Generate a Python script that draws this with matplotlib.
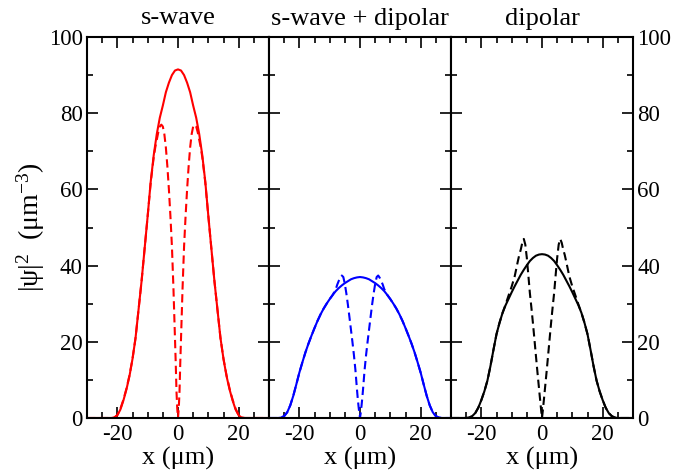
import numpy as np
import matplotlib
matplotlib.use("Agg")
import matplotlib.pyplot as plt
from matplotlib.ticker import MultipleLocator

plt.rcParams["font.family"] = ["Liberation Serif", "DejaVu Serif"]
plt.rcParams["mathtext.fontset"] = "custom"
plt.rcParams["mathtext.rm"] = "Liberation Serif"
plt.rcParams["mathtext.it"] = "Liberation Serif:italic"
plt.rcParams["axes.unicode_minus"] = False

# Density profiles |psi|^2 along x (half profiles for x >= 0; the clouds are symmetric)
x_solid = [0, 1, 2, 3, 4, 5, 6, 7, 8, 9, 10, 11, 12, 13, 14, 15, 16, 17, 18, 19,
           20, 21, 22, 23, 24, 25, 26, 27, 30]
x_dashed = [0, 0.25, 0.5, 0.75, 1, 1.5, 2, 2.5, 3, 3.5, 4, 4.5, 5, 5.5, 6, 6.5, 7,
            7.5, 8, 9, 10, 11, 12, 13, 14, 15, 16, 17, 18, 19, 20, 21, 22, 23, 24,
            25, 26, 27, 30]

# s-wave
swave_solid = [91.5, 91.2, 90.0, 88.0, 85.5, 82.0, 78.8, 74.5, 69.0, 62.0, 53.0, 44.5,
               36.0, 28.5, 21.0, 15.5, 11.0, 7.5, 4.6, 2.2, 0.7, 0.1, 0, 0, 0, 0, 0, 0, 0]
swave_dashed = [0, 2.5, 7.0, 14.5, 21.0, 34.0, 45.0, 53.0, 60.0, 66.0, 71.0, 74.5, 76.5,
                77.0, 76.5, 75.0, 73.0, 71.0, 68.5, 61.8, 53.0, 44.5, 36.0, 28.5, 21.0,
                15.5, 11.2, 7.7, 4.8, 2.4, 0.8, 0.1, 0, 0, 0, 0, 0, 0, 0]

# s-wave + dipolar
mixed_solid = [37.0, 36.9, 36.7, 36.4, 35.9, 35.4, 34.8, 34.1, 33.3, 32.3, 31.2, 30.0,
               28.7, 27.2, 25.5, 23.6, 21.6, 19.5, 17.2, 14.6, 11.9, 8.8, 5.8, 3.3, 1.5,
               0.5, 0.1, 0, 0]
mixed_dashed = [0, 1.4, 3.2, 5.2, 7.5, 12.5, 16.5, 20.0, 23.3, 26.6, 29.8, 32.7, 35.2,
                37.0, 37.4, 36.8, 36.0, 35.0, 33.8, 32.3, 31.2, 30.0, 28.7, 27.2, 25.5,
                23.6, 21.6, 19.5, 17.2, 14.6, 11.9, 8.8, 5.8, 3.3, 1.5, 0.5, 0.1, 0, 0]

# dipolar
dipolar_solid = [43.0, 42.9, 42.6, 42.0, 41.2, 40.1, 38.9, 37.6, 36.1, 34.6, 33.0, 31.3,
                 29.6, 27.6, 25.0, 22.0, 17.9, 13.6, 9.8, 7.0, 4.7, 2.7, 1.3, 0.5, 0.1,
                 0, 0, 0, 0]
dipolar_dashed = [0, 1.8, 3.8, 5.8, 7.9, 12.0, 16.3, 20.7, 25.0, 29.0, 32.8, 37.5, 42.0,
                  45.5, 47.0, 46.0, 44.2, 42.8, 41.0, 37.2, 34.5, 32.2, 29.8, 27.6, 25.0,
                  22.0, 17.9, 13.6, 9.8, 7.0, 4.7, 2.7, 1.3, 0.5, 0.1, 0, 0, 0, 0]

titles = ["s-wave", "s-wave + dipolar", "dipolar"]
colors = ["#ff0000", "#0000ff", "#000000"]
solids = [swave_solid, mixed_solid, dipolar_solid]
dasheds = [swave_dashed, mixed_dashed, dipolar_dashed]


def full_profile(xh, yh):
    xh = np.asarray(xh, float)
    yh = np.asarray(yh, float)
    return np.concatenate([-xh[::-1], xh[1:]]), np.concatenate([yh[::-1], yh[1:]])


fig = plt.figure(figsize=(6.73, 4.76), dpi=100)
left, right, bottom, top = 87 / 673, 633 / 673, 1 - 418 / 476, 1 - 37 / 476
w = (right - left) / 3

for i in range(3):
    ax = fig.add_axes([left + i * w, bottom, w, top - bottom])
    xs, ys = full_profile(x_solid, solids[i])
    xd, yd = full_profile(x_dashed, dasheds[i])
    ax.plot(xs, ys, color=colors[i], lw=1.5, solid_joinstyle="round")
    ax.plot(xd, yd, color=colors[i], lw=1.5, linestyle=(0, (4, 2.2)))
    ax.set_xlim(-30, 30)
    ax.set_ylim(0, 100)
    ax.xaxis.set_major_locator(MultipleLocator(20))
    ax.xaxis.set_minor_locator(MultipleLocator(5))
    ax.yaxis.set_major_locator(MultipleLocator(20))
    ax.yaxis.set_minor_locator(MultipleLocator(10))
    ax.tick_params(which="both", direction="in", top=True, right=True,
                   width=1.2, labelsize=16.5, pad=4)
    ax.tick_params(which="major", length=8)
    ax.tick_params(which="minor", length=4.5)
    ax.tick_params(axis="y", pad=3)
    for sp in ax.spines.values():
        sp.set_linewidth(1.5)
    if i == 0:
        ax.set_ylabel(r"$\mathrm{|ψ|^{2}\ \ (μm^{-3})}$", fontsize=20, labelpad=1)
    elif i == 1:
        ax.tick_params(axis="y", labelleft=False)
    else:
        ax.tick_params(axis="y", labelleft=False, labelright=True)
    ax.set_xlabel("x (μm)", fontsize=19, labelpad=2)
    ax.set_title(titles[i], fontsize=19, pad=9)

fig.savefig("out.png", dpi=100)
